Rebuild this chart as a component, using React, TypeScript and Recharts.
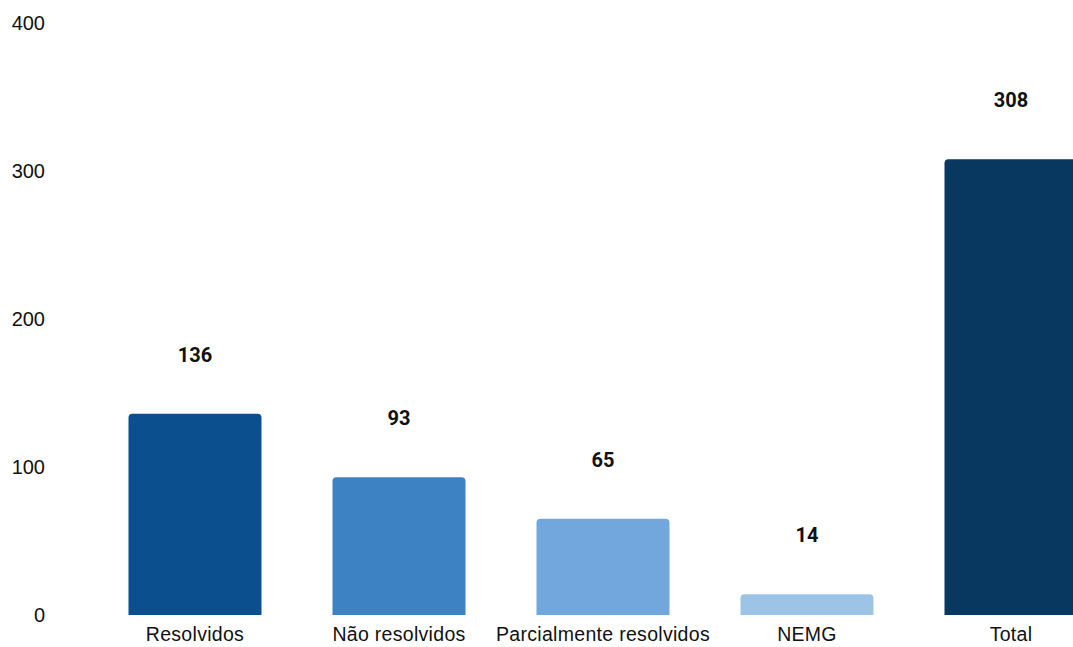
import React from 'react';
import { BarChart, Bar, XAxis, YAxis, Cell, LabelList } from 'recharts';

const categories = ['Resolvidos', 'Não resolvidos', 'Parcialmente resolvidos', 'NEMG', 'Total'];
const values = [136, 93, 65, 14, 308];
const barColors = ['#0b4f8e', '#3d82c3', '#72a7dd', '#9dc3e6', '#08375f'];
const yTicks = [0, 100, 200, 300, 400];

const data = categories.map((name, i) => ({ name, value: values[i] }));

const App: React.FC = () => {
  return (
    <div style={{ position: 'absolute', left: 0, top: 0, width: 1073, height: 647, overflow: 'hidden', background: '#fff' }}>
      <BarChart
        width={1113}
        height={647}
        data={data}
        margin={{ top: 23, right: 0, bottom: 0, left: 0 }}
        barCategoryGap="17.4%"
      >
        <XAxis
          dataKey="name"
          axisLine={false}
          tickLine={false}
          tickSize={0}
          tickMargin={12}
          height={32}
          interval={0}
          tick={{ fill: '#111', fontSize: 19.5, fontFamily: 'Liberation Sans, Arial, sans-serif', letterSpacing: 0.3 }}
        />
        <YAxis
          domain={[0, 400]}
          ticks={yTicks}
          width={93}
          axisLine={false}
          tickLine={false}
          tickSize={0}
          tickMargin={48}
          tick={{ fill: '#111', fontSize: 20, fontFamily: 'Liberation Sans, Arial, sans-serif' }}
        />
        <Bar dataKey="value" radius={[4, 4, 0, 0]} isAnimationActive={false}>
          {data.map((entry, index) => (
            <Cell key={`cell-${index}`} fill={barColors[index]} />
          ))}
          <LabelList
            dataKey="value"
            position="top"
            offset={52}
            style={{ fill: '#111', fontSize: 20, fontWeight: 700, fontFamily: 'Roboto, sans-serif' }}
          />
        </Bar>
      </BarChart>
    </div>
  );
};

export default App;
